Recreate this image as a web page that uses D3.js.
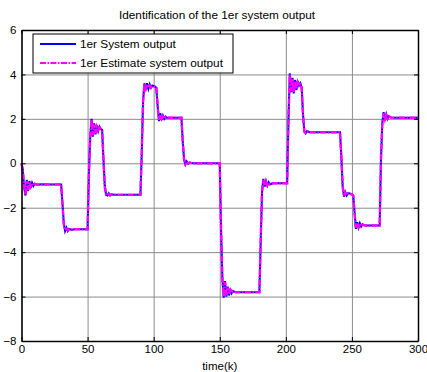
<!DOCTYPE html>
<html>
<head>
<meta charset="utf-8">
<script src="https://cdn.jsdelivr.net/npm/d3@7"></script>
<style>
  body { margin: 0; background: #fff; }
  svg { display: block; font-family: 'Liberation Sans', Arial, sans-serif; }
  .axis path, .axis line { stroke: #000; }
  .axis text { fill: #000; font-size: 11.5px; }
  .grid line { stroke: #8c8c8c; stroke-width: 1; }
  .grid path { display: none; }
</style>
</head>
<body>
<div id="chart"></div>
<script>
// chart data, [k, value] vertices
const xTicks = [0, 50, 100, 150, 200, 250, 300];
const yTicks = [-8, -6, -4, -2, 0, 2, 4, 6];
const seriesNames = ['1er System output', '1er Estimate system output'];

const systemOutput = [
  [0, 0], [1, -0.3], [2, -1.1], [3, -1.45], [4, -0.75], [5, -1.25], [6, -0.8], [7, -1.1], [8, -0.88], [9, -1.02], [10, -0.92], [12, -0.97], [15, -0.94], [20, -0.95], [30, -0.95],
  [31, -1.8], [32, -2.7], [33, -3.05], [34, -2.9], [35, -3.05], [36, -2.95], [38, -3.0], [40, -2.97], [50, -2.97],
  [51, -0.5], [52, 1.2], [53, 2.0], [54, 1.2], [55, 1.8], [56, 1.3], [57, 1.7], [58, 1.45], [59, 1.65], [60, 1.55], [61, 1.5],
  [62, 0.2], [63, -1.0], [64, -1.4], [65, -1.45], [66, -1.35], [67, -1.45], [68, -1.4], [70, -1.42], [90, -1.42],
  [91, 0.5], [92, 2.8], [93, 3.6], [94, 3.3], [95, 3.6], [96, 3.35], [97, 3.55], [98, 3.4], [99, 3.5], [101, 3.45], [102, 3.4],
  [103, 2.6], [104, 1.9], [105, 2.25], [106, 1.95], [107, 2.15], [108, 2.0], [109, 2.1], [110, 2.05], [121, 2.05],
  [122, 1.0], [123, 0.2], [124, -0.05], [125, 0.08], [126, -0.02], [127, 0.03], [130, 0.0], [150, 0.0],
  [151, -3.0], [152, -5.2], [153, -6.05], [154, -5.3], [155, -6.0], [156, -5.55], [157, -5.95], [158, -5.65], [159, -5.85], [160, -5.75], [162, -5.8], [180, -5.8],
  [181, -3.5], [182, -1.3], [183, -0.7], [184, -1.05], [185, -0.8], [186, -1.0], [187, -0.85], [188, -0.95], [190, -0.9], [201, -0.9],
  [202, 2.0], [203, 4.05], [204, 3.2], [205, 3.85], [206, 3.15], [207, 3.75], [208, 3.3], [209, 3.7], [210, 3.5], [211, 3.6], [212, 3.4],
  [213, 2.2], [214, 1.45], [215, 1.35], [216, 1.45], [218, 1.4], [241, 1.4],
  [242, 0.3], [243, -1.0], [244, -1.5], [245, -1.3], [246, -1.45], [247, -1.35], [248, -1.35], [250, -1.4], [251, -1.45],
  [252, -2.2], [253, -2.95], [254, -2.65], [255, -2.9], [256, -2.7], [257, -2.85], [258, -2.75], [260, -2.8], [271, -2.8],
  [272, 0.2], [273, 1.8], [274, 2.3], [275, 1.95], [276, 2.2], [277, 2.0], [278, 2.12], [280, 2.05], [300, 2.05]
];

const estimateOutput = [
  [0, 0], [1, -0.35], [2, -1.05], [3, -1.4], [4, -0.8], [5, -1.2], [6, -0.85], [7, -1.05], [8, -0.9], [9, -1.0], [10, -0.93], [12, -0.96], [15, -0.95], [20, -0.95], [30, -0.95],
  [31, -1.85], [32, -2.75], [33, -3.0], [34, -2.95], [35, -3.02], [36, -2.97], [38, -2.98], [40, -2.97], [50, -2.97],
  [51, -0.45], [52, 1.25], [53, 1.95], [54, 1.25], [55, 1.75], [56, 1.35], [57, 1.65], [58, 1.5], [59, 1.6], [60, 1.55], [61, 1.5],
  [62, 0.15], [63, -1.05], [64, -1.42], [65, -1.43], [66, -1.38], [67, -1.43], [68, -1.41], [70, -1.42], [90, -1.42],
  [91, 0.55], [92, 2.85], [93, 3.55], [94, 3.35], [95, 3.55], [96, 3.4], [97, 3.5], [98, 3.42], [99, 3.48], [101, 3.45], [102, 3.4],
  [103, 2.55], [104, 1.95], [105, 2.2], [106, 2.0], [107, 2.12], [108, 2.02], [109, 2.08], [110, 2.05], [121, 2.05],
  [122, 0.95], [123, 0.15], [124, -0.03], [125, 0.06], [126, -0.01], [127, 0.02], [130, 0.0], [150, 0.0],
  [151, -3.1], [152, -5.25], [153, -6.0], [154, -5.35], [155, -5.95], [156, -5.6], [157, -5.9], [158, -5.7], [159, -5.82], [160, -5.77], [162, -5.8], [180, -5.8],
  [181, -3.4], [182, -1.25], [183, -0.75], [184, -1.0], [185, -0.82], [186, -0.98], [187, -0.87], [188, -0.93], [190, -0.9], [201, -0.9],
  [202, 2.1], [203, 4.0], [204, 3.25], [205, 3.8], [206, 3.2], [207, 3.7], [208, 3.35], [209, 3.65], [210, 3.5], [211, 3.55], [212, 3.4],
  [213, 2.15], [214, 1.42], [215, 1.37], [216, 1.43], [218, 1.4], [241, 1.4],
  [242, 0.25], [243, -1.05], [244, -1.48], [245, -1.32], [246, -1.43], [247, -1.37], [248, -1.36], [250, -1.4], [251, -1.45],
  [252, -2.25], [253, -2.9], [254, -2.68], [255, -2.87], [256, -2.72], [257, -2.83], [258, -2.77], [260, -2.8], [271, -2.8],
  [272, 0.25], [273, 1.85], [274, 2.25], [275, 1.98], [276, 2.17], [277, 2.02], [278, 2.1], [280, 2.05], [300, 2.05]
];

const W = 427, H = 372;
const margin = { top: 30, right: 9, bottom: 31, left: 21.5 };
const width = W - margin.left - margin.right;
const height = H - margin.top - margin.bottom;

const root = d3.select('#chart').append('svg')
  .attr('width', W)
  .attr('height', H);

const svg = root.append('g')
  .attr('transform', `translate(${margin.left},${margin.top})`);

const x = d3.scaleLinear().domain([0, 300]).range([0, width]);
const y = d3.scaleLinear().domain([-8, 6]).range([height, 0]);

// grid
svg.append('g').attr('class', 'grid')
  .call(d3.axisLeft(y).tickValues(yTicks).tickSize(-width).tickFormat(() => ''));
svg.append('g').attr('class', 'grid')
  .attr('transform', `translate(0,${height})`)
  .call(d3.axisBottom(x).tickValues(xTicks).tickSize(-height).tickFormat(() => ''));

// lines
const line = d3.line().x(d => x(d[0])).y(d => y(d[1]));

svg.append('path')
  .datum(systemOutput)
  .attr('fill', 'none')
  .attr('stroke', '#0000ff')
  .attr('stroke-width', 2)
  .attr('d', line);

svg.append('path')
  .datum(estimateOutput)
  .attr('fill', 'none')
  .attr('stroke', '#ff00ff')
  .attr('stroke-width', 2.4)
  .attr('stroke-dasharray', '6,1.5,1.5,1.5')
  .attr('d', line);

// axes with inner ticks on all sides
svg.append('g').attr('class', 'axis')
  .attr('transform', `translate(0,${height})`)
  .call(d3.axisBottom(x).tickValues(xTicks).tickSizeInner(-4).tickSizeOuter(0).tickPadding(4))
  .call(g => g.select('.domain').attr('stroke-width', 1.5));
svg.append('g').attr('class', 'axis')
  .call(d3.axisLeft(y).tickValues(yTicks).tickSizeInner(-4).tickSizeOuter(0).tickPadding(5))
  .call(g => g.select('.domain').attr('stroke-width', 1.5));
svg.append('g').attr('class', 'axis')
  .call(d3.axisTop(x).tickValues(xTicks).tickSizeInner(-4).tickSizeOuter(0).tickFormat(() => ''))
  .call(g => g.select('.domain').attr('stroke-width', 1.5));
svg.append('g').attr('class', 'axis')
  .attr('transform', `translate(${width},0)`)
  .call(d3.axisRight(y).tickValues(yTicks).tickSizeInner(-4).tickSizeOuter(0).tickFormat(() => ''))
  .call(g => g.select('.domain').attr('stroke-width', 1.5));

// title and axis label
root.append('text')
  .attr('x', 217)
  .attr('y', 19)
  .attr('text-anchor', 'middle')
  .attr('font-size', 11.8)
  .text('Identification of the 1er system output');

root.append('text')
  .attr('x', margin.left + width / 2)
  .attr('y', 370)
  .attr('text-anchor', 'middle')
  .attr('font-size', 11.5)
  .text('time(k)');

// legend
const legend = root.append('g').attr('transform', 'translate(33,34)');
legend.append('rect')
  .attr('width', 200)
  .attr('height', 39)
  .attr('fill', '#fff')
  .attr('stroke', '#000')
  .attr('stroke-width', 1);

const legendStyles = [
  { color: '#0000ff', dash: null },
  { color: '#ff00ff', dash: '6,1.5,1.5,1.5' }
];

seriesNames.forEach((name, i) => {
  const row = legend.append('g').attr('transform', `translate(0,${10 + i * 19})`);
  row.append('line')
    .attr('x1', 7).attr('x2', 43)
    .attr('stroke', legendStyles[i].color)
    .attr('stroke-width', 2)
    .attr('stroke-dasharray', legendStyles[i].dash);
  row.append('text')
    .attr('x', 47)
    .attr('y', 4)
    .attr('font-size', 11.8)
    .text(name);
});
</script>
</body>
</html>
